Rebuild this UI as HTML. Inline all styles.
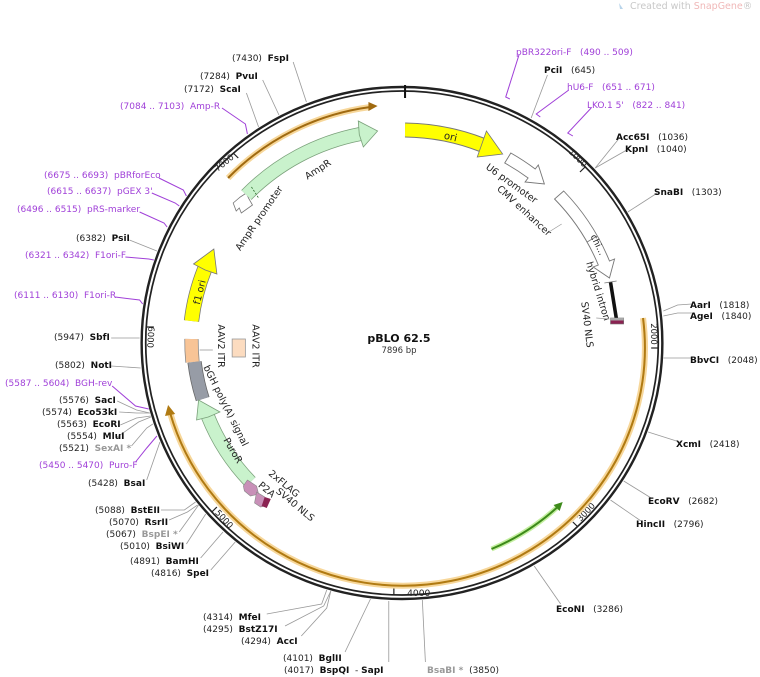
<!DOCTYPE html>
<html><head><meta charset="utf-8">
<style>
html,body{margin:0;padding:0;background:#fff;}
svg{display:block;font-family:"DejaVu Sans","Liberation Sans",sans-serif;}
text{white-space:pre;}
.l{font-size:9px;fill:#222;}
.b{font-weight:bold;fill:#111;}
.p{font-size:9px;fill:#a040d8;}
.g{fill:#999;font-weight:bold;}
.f{font-size:9.5px;fill:#222;}
</style></head><body>
<svg width="760" height="677" viewBox="0 0 760 677" xmlns="http://www.w3.org/2000/svg">
<rect width="760" height="677" fill="#fff"/>
<text x="630" y="9" font-size="9.5" fill="#c8c8c8">Created with <tspan fill="#f0b8b8">SnapGene</tspan>®</text>
<path d="M619 3 l4 6 l-3 0z" fill="#b8d4ea"/>

<g transform="translate(402,343) scale(1.017,1) translate(-399,-343)">
<circle cx="399" cy="343" r="256" fill="none" stroke="#222" stroke-width="2.4"/>
<circle cx="399" cy="343" r="252" fill="none" stroke="#222" stroke-width="1.7"/>
<line x1="402" y1="85" x2="402" y2="98" stroke="#111" stroke-width="2"/>
<g stroke="#222" stroke-width="1.2">
<line x1="579" y1="167" x2="574" y2="172"/>
<line x1="651" y1="348" x2="644" y2="348"/>
<line x1="572" y1="527" x2="567" y2="522"/>
<line x1="391" y1="595" x2="391" y2="588"/>
<line x1="212" y1="512" x2="217" y2="507"/>
<line x1="148" y1="327" x2="155" y2="327"/>
<line x1="233" y1="153" x2="238" y2="158"/>
</g>
<g font-size="8.5" fill="#222">
<text transform="translate(570,160) rotate(45)" text-anchor="middle">1000</text>
<text transform="translate(644,334) rotate(90)" text-anchor="middle">2000</text>
<text transform="translate(582,514) rotate(-47)" text-anchor="middle">3000</text>
<text x="404" y="596" font-size="9">4000</text>
<text transform="translate(222,521) rotate(48)" text-anchor="middle">5000</text>
<text transform="translate(149,337) rotate(93)" text-anchor="middle">6000</text>
<text transform="translate(226,165) rotate(-40)" text-anchor="middle">7000</text>
</g>

<g stroke="#999" stroke-width="0.8" fill="none">
<line x1="292" y1="62" x2="305" y2="102"/>
<line x1="262" y1="80" x2="278" y2="115"/>
<line x1="246" y1="93" x2="258" y2="127"/>
<line x1="131" y1="240" x2="158" y2="251"/>
<line x1="113" y1="338" x2="141" y2="338"/>
<line x1="113" y1="366" x2="142" y2="368"/>
<polyline points="119,401 138,410 151,413"/>
<polyline points="121,412 138,413 151,413"/>
<polyline points="122,425 138,418 152,416"/>
<polyline points="119,437 140,422 152,417"/>
<polyline points="133,446 148,428 154,424"/>
<line x1="148" y1="480" x2="161" y2="442"/>
<polyline points="162,510 185,510 196,502"/>
<polyline points="170,520 188,512 198,505"/>
<polyline points="180,532 192,515 199,505"/>
<line x1="187" y1="544" x2="206" y2="514"/>
<line x1="201" y1="558" x2="223" y2="532"/>
<line x1="211" y1="570" x2="235" y2="542"/>
<polyline points="266,614 320,604 325,590"/>
<polyline points="284,626 322,606 329,591"/>
<polyline points="300,636 325,608 329,591"/>
<line x1="343" y1="652" x2="368" y2="599"/>
<line x1="386" y1="662" x2="386" y2="601"/>
<line x1="422" y1="662" x2="419" y2="600"/>
<line x1="555" y1="604" x2="529" y2="566"/>
<line x1="634" y1="521" x2="604" y2="500"/>
<line x1="644" y1="498" x2="617" y2="481"/>
<line x1="672" y1="442" x2="641" y2="432"/>
<line x1="684" y1="358" x2="656" y2="358"/>
<polyline points="684,313 670,313 656,316"/>
<polyline points="684,304 670,305 656,311"/>
<line x1="650" y1="193" x2="621" y2="212"/>
<line x1="620" y1="150" x2="589" y2="168"/>
<line x1="612" y1="139" x2="589" y2="168"/>
<line x1="542" y1="75" x2="526" y2="118"/>
</g>
<g stroke="#a040d8" stroke-width="1" fill="none">
<polyline points="222,108 245,124 247,134"/>
<polyline points="160,178 184,190 187,196"/>
<polyline points="153,193 176,203 180,206"/>
<polyline points="141,212 165,223 168,227"/>
<polyline points="127,257 150,259 155,260"/>
<polyline points="117,297 141,300 144,304"/>
<polyline points="114,386 137,406 150,409"/>
<polyline points="137,462 148,448 158,436"/>
<polyline points="514,55 501,97 505,99"/>
<polyline points="563,90 531,114 535,117"/>
<polyline points="585,108 562,133 567,136"/>
</g>

<path d="M636 318 A238 238 0 0 1 171 413" fill="none" stroke="#f7d79a" stroke-width="6"/>
<path d="M636 318 A238 238 0 0 1 171 413" fill="none" stroke="#b07a12" stroke-width="2"/>
<polygon points="169,405 176,414 166,416" fill="#b07a12"/>
<path d="M228 178 A238 238 0 0 1 368 107" fill="none" stroke="#f7d79a" stroke-width="6"/>
<path d="M228 178 A238 238 0 0 1 368 107" fill="none" stroke="#a06a10" stroke-width="2"/>
<polygon points="375,106 366,102 366,111" fill="#a06a10"/>
<path d="M487 549 A224 224 0 0 0 552 507" fill="none" stroke="#c4efa0" stroke-width="5"/>
<path d="M487 549 A224 224 0 0 0 552 507" fill="none" stroke="#3d8a1a" stroke-width="2"/>
<polygon points="557,502 548,505 554,511" fill="#3d8a1a"/>

<path d="M402 130 A213 213 0 0 1 478 145" fill="none" stroke="#777" stroke-width="15"/>
<path d="M402 130 A213 213 0 0 1 478 145" fill="none" stroke="#ffff00" stroke-width="13"/>
<polygon points="477,145.5 482,131 498,154 473,157" fill="#ffff00" stroke="#777" stroke-width="0.8"/>
<text transform="translate(446,140) rotate(13)" text-anchor="middle" font-size="10" fill="#222">ori</text>
<path d="M506 153 A218 218 0 0 1 530 169 L533 165 L539 184 L520 182 L523 178 A206 206 0 0 0 500 163 Z" fill="#fff" stroke="#777" stroke-width="0.9"/>
<path d="M558 191 A220 220 0 0 1 603 261 L608 259 L603 278 L587 267 L592 265 A208 208 0 0 0 549 199 Z" fill="#fff" stroke="#777" stroke-width="0.9"/>
<line x1="581" y1="242" x2="591" y2="236" stroke="#777" stroke-width="0.8"/>
<line x1="604" y1="282" x2="610" y2="320" stroke="#111" stroke-width="3.5"/>
<line x1="598" y1="283" x2="610" y2="281" stroke="#777" stroke-width="0.8"/>
<rect x="604" y="318" width="13" height="6" fill="#8a2252" stroke="#777" stroke-width="0.6"/>
<rect x="604" y="318" width="13" height="2.5" fill="#a8a8a8"/>

<polygon points="233,203 240,197 246,193 248,198 252,205 241,213 239,208 236,211" fill="#fff" stroke="#777" stroke-width="0.8"/>
<path d="M246 195 A213 213 0 0 1 358 134" fill="none" stroke="#7aa07a" stroke-width="14"/>
<path d="M246 195 A213 213 0 0 1 358 134" fill="none" stroke="#c9f2cc" stroke-width="12.5"/>
<polygon points="357,134.5 356,121 375,131 361,147" fill="#c9f2cc" stroke="#7aa07a" stroke-width="0.8"/>
<line x1="251" y1="187" x2="258" y2="198" stroke="#2a6a2a" stroke-width="0.8" stroke-dasharray="2,1.5"/>
<text transform="translate(318,172) rotate(-33)" text-anchor="middle" class="f">AmpR</text>
<text transform="translate(261,220) rotate(-56)" text-anchor="middle" class="f">AmpR promoter</text>

<path d="M192 321 A208 208 0 0 1 205 269" fill="none" stroke="#777" stroke-width="15"/>
<path d="M192 321 A208 208 0 0 1 205 269" fill="none" stroke="#ffff00" stroke-width="13.5"/>
<polygon points="205.5,270 194,264 214,249 217,274" fill="#ffff00" stroke="#777" stroke-width="0.8"/>
<text transform="translate(203,293) rotate(-76)" text-anchor="middle" class="f">f1 ori</text>
<path d="M193 362 A206 206 0 0 1 192 339" fill="none" stroke="#888" stroke-width="14"/>
<path d="M193 362 A206 206 0 0 1 192 339" fill="none" stroke="#f8c496" stroke-width="12.5"/>
<path d="M203 399 A204 204 0 0 1 195 362" fill="none" stroke="#666" stroke-width="14"/>
<path d="M203 399 A204 204 0 0 1 195 362" fill="none" stroke="#979ca6" stroke-width="12.5"/>
<rect x="232" y="339" width="13" height="18" fill="#fcdcc0" stroke="#999" stroke-width="0.8"/>
<line x1="200" y1="350" x2="213" y2="350" stroke="#999" stroke-width="0.8"/>
<text transform="translate(218,346) rotate(90)" text-anchor="middle" class="f">AAV2 ITR</text>
<text transform="translate(252,346) rotate(90)" text-anchor="middle" class="f">AAV2 ITR</text>
<text transform="translate(223,407) rotate(64)" text-anchor="middle" class="f">bGH poly(A) signal</text>
<path d="M250 482 A204 204 0 0 1 208 416" fill="none" stroke="#7aa07a" stroke-width="14"/>
<path d="M250 482 A204 204 0 0 1 208 416" fill="none" stroke="#c9f2cc" stroke-width="12.5"/>
<polygon points="208.5,417 220,412 199,400 197,420" fill="#c9f2cc" stroke="#7aa07a" stroke-width="0.8"/>
<text transform="translate(230,452) rotate(60)" text-anchor="middle" class="f" fill="#1a4a1a">PuroR</text>
<polygon points="247,480 256,486 258,494 250,496 244,491 243,486" fill="#c890b8" stroke="#888" stroke-width="0.6"/>
<polygon points="256,492 264,497 267,505 260,507 254,503" fill="#c890b8" stroke="#888" stroke-width="0.6"/>
<polygon points="264,497 270,499 266,508 261,506" fill="#8a2252"/>
<text transform="translate(281,486) rotate(40)" text-anchor="middle" class="f">2xFLAG</text>
<text transform="translate(264,492) rotate(40)" text-anchor="middle" class="f">P2A</text>
<text transform="translate(292,507) rotate(40)" text-anchor="middle" class="f">SV40 NLS</text>
<text transform="translate(505,186) rotate(36)" text-anchor="middle" class="f">U6 promoter</text>
<text transform="translate(517,213) rotate(43)" text-anchor="middle" class="f">CMV enhancer</text>
<text transform="translate(589,246) rotate(64)" text-anchor="middle" font-size="9" fill="#222">chi...</text>
<text transform="translate(589,292) rotate(73)" text-anchor="middle" class="f">hybrid intron</text>
<text transform="translate(578,325) rotate(83)" text-anchor="middle" class="f">SV40 NLS</text>
<line x1="590" y1="318" x2="603" y2="319" stroke="#999" stroke-width="0.7"/>
<line x1="545" y1="231" x2="556" y2="224" stroke="#999" stroke-width="0.7"/>
</g>

<text x="399" y="342" text-anchor="middle" font-size="11" font-weight="bold" fill="#111">pBLO 62.5</text>
<text x="399" y="353" text-anchor="middle" font-size="8.5" fill="#333">7896 bp</text>

<g class="l">
<text x="232" y="61" class="l">(7430)  <tspan class="b">FspI</tspan></text>
<text x="200" y="79" class="l">(7284)  <tspan class="b">PvuI</tspan></text>
<text x="184" y="92" class="l">(7172)  <tspan class="b">ScaI</tspan></text>
<text x="120" y="109" class="p">(7084 .. 7103)  Amp-R</text>
<text x="44" y="178" class="p">(6675 .. 6693)  pBRforEco</text>
<text x="47" y="194" class="p">(6615 .. 6637)  pGEX 3'</text>
<text x="17" y="212" class="p">(6496 .. 6515)  pRS-marker</text>
<text x="76" y="241" class="l">(6382)  <tspan class="b">PsiI</tspan></text>
<text x="25" y="258" class="p">(6321 .. 6342)  F1ori-F</text>
<text x="14" y="298" class="p">(6111 .. 6130)  F1ori-R</text>
<text x="54" y="340" class="l">(5947)  <tspan class="b">SbfI</tspan></text>
<text x="55" y="368" class="l">(5802)  <tspan class="b">NotI</tspan></text>
<text x="5" y="386" class="p">(5587 .. 5604)  BGH-rev</text>
<text x="59" y="403" class="l">(5576)  <tspan class="b">SacI</tspan></text>
<text x="42" y="415" class="l">(5574)  <tspan class="b">Eco53kI</tspan></text>
<text x="57" y="427" class="l">(5563)  <tspan class="b">EcoRI</tspan></text>
<text x="67" y="439" class="l">(5554)  <tspan class="b">MluI</tspan></text>
<text x="59" y="451" class="l">(5521)  <tspan class="g">SexAI *</tspan></text>
<text x="39" y="468" class="p">(5450 .. 5470)  Puro-F</text>
<text x="88" y="486" class="l">(5428)  <tspan class="b">BsaI</tspan></text>
<text x="95" y="513" class="l">(5088)  <tspan class="b">BstEII</tspan></text>
<text x="109" y="525" class="l">(5070)  <tspan class="b">RsrII</tspan></text>
<text x="106" y="537" class="l">(5067)  <tspan class="g">BspEI *</tspan></text>
<text x="120" y="549" class="l">(5010)  <tspan class="b">BsiWI</tspan></text>
<text x="130" y="564" class="l">(4891)  <tspan class="b">BamHI</tspan></text>
<text x="151" y="576" class="l">(4816)  <tspan class="b">SpeI</tspan></text>
<text x="203" y="620" class="l">(4314)  <tspan class="b">MfeI</tspan></text>
<text x="203" y="632" class="l">(4295)  <tspan class="b">BstZ17I</tspan></text>
<text x="241" y="644" class="l">(4294)  <tspan class="b">AccI</tspan></text>
<text x="283" y="661" class="l">(4101)  <tspan class="b">BglII</tspan></text>
<text x="284" y="673" class="l">(4017)  <tspan class="b">BspQI</tspan>  - <tspan class="b">SapI</tspan></text>
<text x="427" y="673" class="l"><tspan class="g">BsaBI *</tspan>  (3850)</text>
<text x="556" y="612" class="l"><tspan class="b">EcoNI</tspan>   (3286)</text>
<text x="636" y="527" class="l"><tspan class="b">HincII</tspan>   (2796)</text>
<text x="648" y="504" class="l"><tspan class="b">EcoRV</tspan>   (2682)</text>
<text x="676" y="447" class="l"><tspan class="b">XcmI</tspan>   (2418)</text>
<text x="690" y="363" class="l"><tspan class="b">BbvCI</tspan>   (2048)</text>
<text x="690" y="319" class="l"><tspan class="b">AgeI</tspan>   (1840)</text>
<text x="690" y="308" class="l"><tspan class="b">AarI</tspan>   (1818)</text>
<text x="654" y="195" class="l"><tspan class="b">SnaBI</tspan>   (1303)</text>
<text x="625" y="152" class="l"><tspan class="b">KpnI</tspan>   (1040)</text>
<text x="616" y="140" class="l"><tspan class="b">Acc65I</tspan>   (1036)</text>
<text x="587" y="108" class="p">LKO.1 5'   (822 .. 841)</text>
<text x="567" y="90" class="p">hU6-F   (651 .. 671)</text>
<text x="544" y="73" class="l"><tspan class="b">PciI</tspan>   (645)</text>
<text x="516" y="55" class="p">pBR322ori-F   (490 .. 509)</text>
</g>
</svg>
</body></html>
